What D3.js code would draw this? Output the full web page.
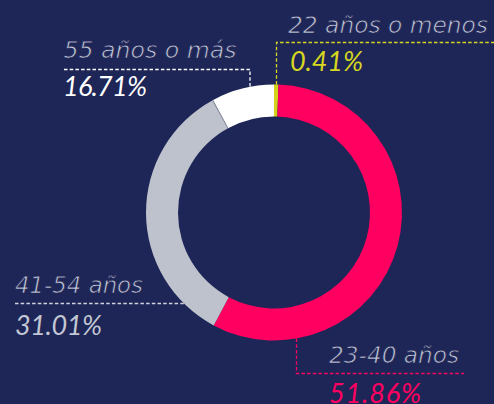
<!DOCTYPE html>
<html><head><meta charset="utf-8">
<script src="https://cdn.jsdelivr.net/npm/d3@7"></script>
<style>
html,body{margin:0;padding:0;background:#1e2657;}
svg{display:block;}
text{font-style:italic;}
.lab{font-family:"DejaVu Sans",sans-serif;}
.val{font-family:Lato,"Open Sans",sans-serif;}
</style></head>
<body>
<script>
// Data
const categories = ["22 años o menos", "23-40 años", "41-54 años", "55 años o más"];
const labelPercents = ["0.41%", "51.86%", "31.01%", "16.71%"];
// slice sizes as drawn in the picture
const arcValues = [0.5, 51.86, 31.01, 7.2];
const sliceColors = ["#d3d31c", "#ff0060", "#bec2cd", "#ffffff"];
const valueColors = ["#d7d720", "#ff0060", "#c3c7d3", "#ffffff"];
const lineColors = ["#d7d720", "#ff0060", "#d0d3dc", "#ffffff"];

const W = 494, H = 404;
const bg = "#1e2657";
const cx = 274, cy = 212.5, R = 128, r = 96;

const svg = d3.select("body").append("svg").attr("width", W).attr("height", H);
svg.append("rect").attr("width", W).attr("height", H).attr("fill", bg);

const pie = d3.pie().sort(null).value(d => d)(arcValues);
const arc = d3.arc().innerRadius(r).outerRadius(R);
const g = svg.append("g").attr("transform", `translate(${cx},${cy})`);
g.selectAll("path").data(pie).join("path")
  .attr("d", arc).attr("fill", (d, i) => sliceColors[i]);
g.append("path")
  .attr("d", d3.arc().innerRadius(r).outerRadius(R).startAngle(pie[3].startAngle - 0.004).endAngle(pie[3].startAngle + 0.004)())
  .attr("fill", "#7e8499");

const ringY = (x, sign) => cy + sign * Math.sqrt(R * R - (x - cx) * (x - cx));
const ringX = (y, sign) => cx + sign * Math.sqrt(R * R - (y - cy) * (y - cy));

const dash = "3.5,2.2";
const labels = [
  {i: 0, lx: 288, ly: 33, lw: 200, vx: 290, vy: 71, vw: 73,
   path: () => { const x = cx + 2.5, y = 42.5; return `M${x},${ringY(x,-1)}V${y}H${W}`; }},
  {i: 1, lx: 329, ly: 363, lw: 130, vx: 329, vy: 403, vw: 92,
   path: () => { const x = 296.5, y = 373.5; return `M${x},${ringY(x,1)}V${y}H464`; }},
  {i: 2, lx: 15, ly: 293, lw: 128, vx: 15, vy: 335, vw: 87,
   path: () => { const y = 303.5; return `M15,${y}H${ringX(y,-1)}`; }},
  {i: 3, lx: 63.5, ly: 58, lw: 173, vx: 63, vy: 96, vw: 84,
   path: () => { const x = 250, y = 69.5; return `M64,${y}H${x}V${ringY(x,-1)}`; }}
];

labels.forEach(l => {
  svg.append("path").attr("d", l.path()).attr("fill", "none")
    .attr("stroke", lineColors[l.i]).attr("stroke-width", 1.3)
    .attr("stroke-dasharray", dash);
  svg.append("text").attr("class", "lab").attr("x", l.lx).attr("y", l.ly)
    .attr("font-size", 22.5).attr("fill", "#c3c8d8")
    .attr("stroke", bg).attr("stroke-width", 0.75)
    .attr("textLength", l.lw).attr("lengthAdjust", "spacingAndGlyphs")
    .text(categories[l.i]);
  svg.append("text").attr("class", "val").attr("x", l.vx).attr("y", l.vy)
    .attr("font-size", 27).attr("font-weight", 400).attr("fill", valueColors[l.i])
    .attr("textLength", l.vw).attr("lengthAdjust", "spacing")
    .text(labelPercents[l.i]);
});
</script>
</body></html>
